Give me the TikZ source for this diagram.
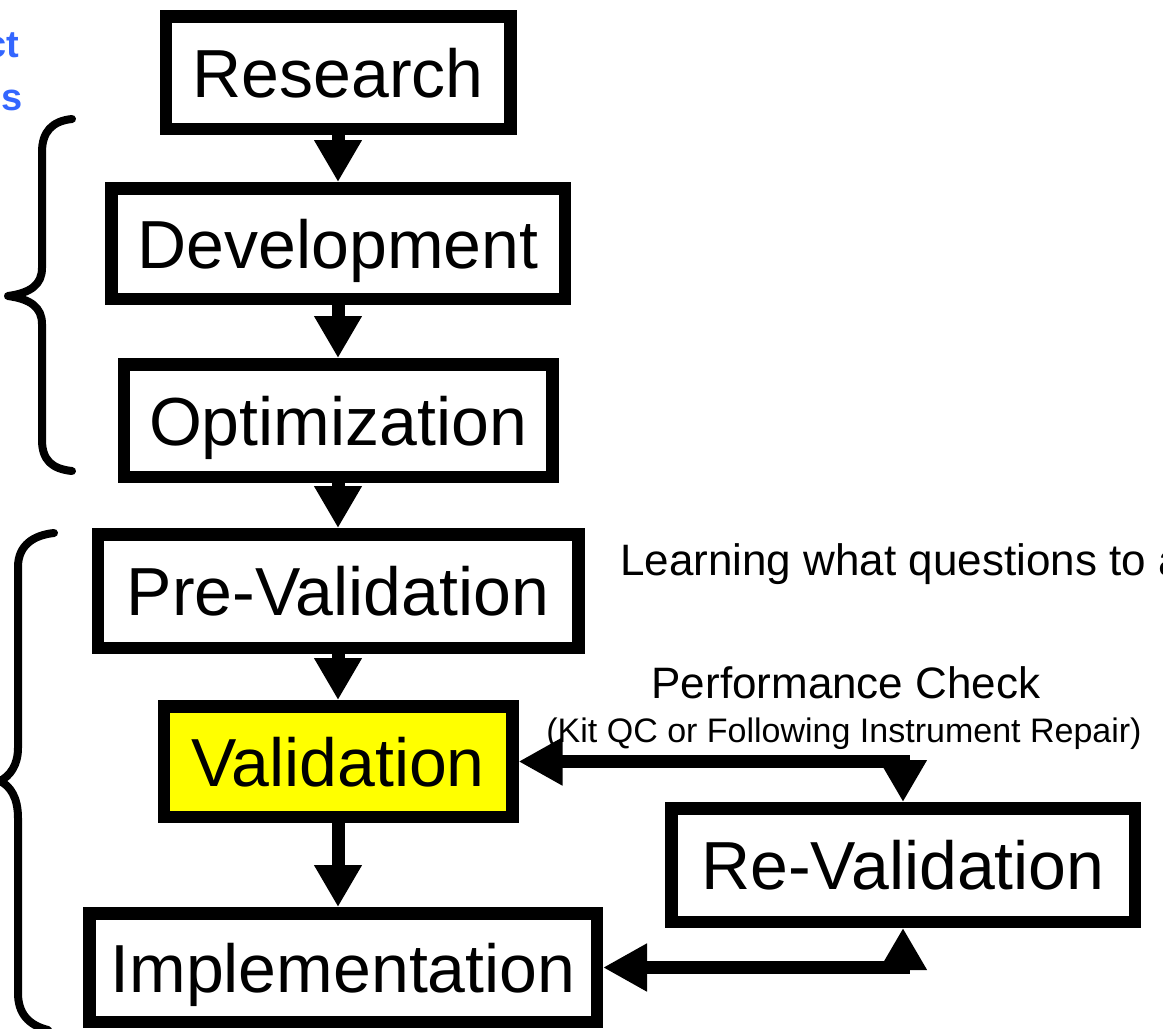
\documentclass[tikz,border=0pt]{standalone}
\usepackage{fontspec}
\setmainfont{Liberation Sans}
\usetikzlibrary{arrows.meta}
\definecolor{blueT}{RGB}{51,102,255}
\definecolor{yel}{RGB}{255,255,0}
\tikzset{
  box/.style={draw=black, line width=12.5pt, fill=white, inner sep=0pt,
    text height=49pt, text depth=0pt, font=\fontsize{68}{80}\selectfont},
  flow/.style={line width=13pt, -{Triangle[length=42pt,width=45pt]}},
  twoway/.style={line width=13pt, {Triangle[length=44pt,width=45pt]}-{Triangle[length=42pt,width=45pt]}},
  brace/.style={line width=8pt, line cap=round, line join=round},
  note/.style={inner sep=0pt, font=\fontsize{44}{50}\selectfont},
  small/.style={inner sep=0pt, font=\fontsize{34}{40}\selectfont},
  bluetxt/.style={inner sep=0pt, text=blueT, font=\fontsize{38}{42}\selectfont\bfseries}
}
\begin{document}
\begin{tikzpicture}[x=1pt,y=-1pt]
\useasboundingbox (0,0) rectangle (1163,1029);
\fill[white] (0,0) rectangle (1163,1029);

% blue partial labels
\node[bluetxt, anchor=base east] (b1) at (19,57) {ct};
\node[bluetxt, anchor=base east] (b2) at (23,110) {s};

% boxes
\node[box, minimum width=344.5pt, minimum height=112.5pt] (res) at (338,72.5) {Research};
\node[box, minimum width=453.5pt, minimum height=110.5pt] (dev) at (338,243.5) {Development};
\node[box, minimum width=428.5pt, minimum height=112.5pt] (opt) at (338,420.5) {Optimization};
\node[box, minimum width=480.5pt, minimum height=113.5pt] (pre) at (338,591) {Pre-Validation};
\node[box, fill=yel, minimum width=348.5pt, minimum height=110.5pt] (val) at (338,761.5) {Validation};
\node[box, minimum width=463.5pt, minimum height=113.5pt] (reval) at (903,865) {Re-Validation};
\node[box, minimum width=507.5pt, minimum height=108.5pt] (impl) at (343,967.5) {Implementation};

% vertical flow arrows
\draw[flow] (res.south) -- (dev.north);
\draw[flow] (dev.south) -- (opt.north);
\draw[flow] (opt.south) -- (pre.north);
\draw[flow] (pre.south) -- (val.north);
\draw[flow] (val.south) -- (val.south |- impl.north);

% loop arrows
\draw[twoway] (val.east) -| (reval.north);
\draw[twoway] (impl.east) -| (reval.south);

% texts
\node[note, anchor=base west] (learn) at (620,575) {Learning what questions to a};
\node[note, anchor=base] (perf) at (846,698) {Performance Check};
\node[small, anchor=base] (kit) at (844,742) {(Kit QC or Following Instrument Repair)};

% braces
\draw[brace] (72,119) .. controls (52,121) and (42,132) .. (42,152) -- (42,268)
  .. controls (42,285) and (30,293) .. (8,296)
  .. controls (30,299) and (42,307) .. (42,324) -- (42,440)
  .. controls (42,460) and (52,469) .. (72,471);
\draw[brace] (54,533) .. controls (34,535) and (18,545) .. (18,567) -- (18,748)
  .. controls (18,765) and (10,776) .. (0,781)
  .. controls (10,786) and (18,797) .. (18,818) -- (18,993)
  .. controls (18,1013) and (28,1025) .. (48,1030);
\end{tikzpicture}
\end{document}
